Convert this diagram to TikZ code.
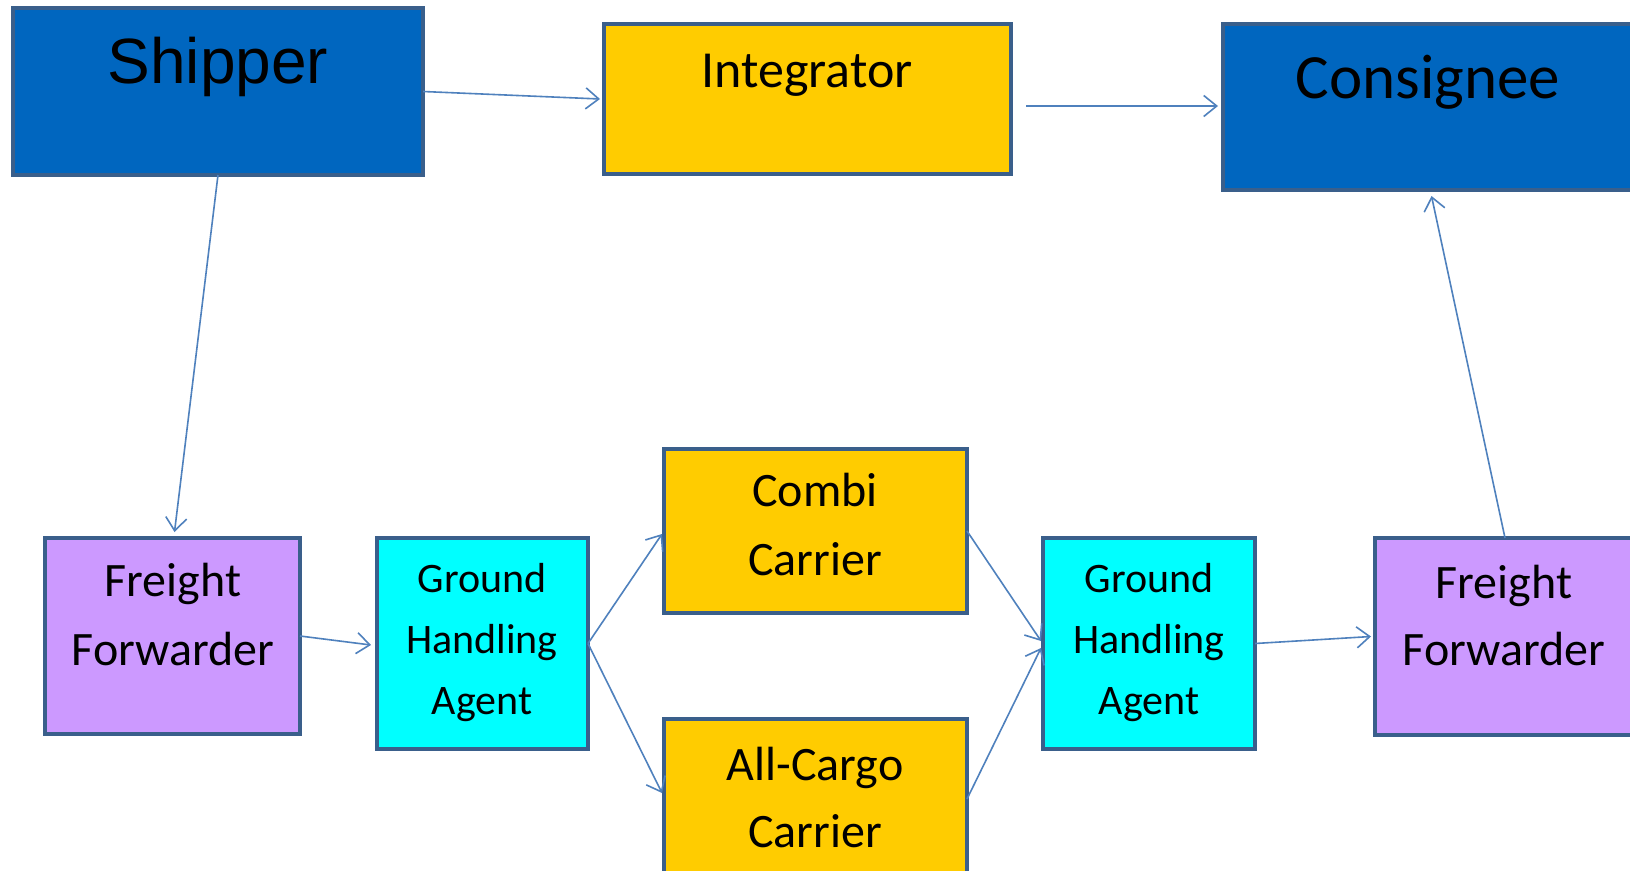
\documentclass[tikz,border=0pt]{standalone}
\usepackage{fontspec}
\setmainfont{Carlito}
\newfontfamily\arialfont{Liberation Sans}
\usetikzlibrary{arrows.meta}
\definecolor{bordercol}{HTML}{3A5F8B}
\definecolor{linecol}{HTML}{4F81BD}
\definecolor{bluefill}{HTML}{0066BF}
\definecolor{goldfill}{HTML}{FFCC00}
\definecolor{lilacfill}{HTML}{CC99FF}
\definecolor{cyanfill}{HTML}{00FFFF}
\tikzset{
  box/.style={draw=bordercol, line width=4.5pt, inner sep=0pt, outer sep=0pt, rectangle},
  lbl/.style={anchor=base, align=center, inner sep=0pt, text=black},
  conn/.style={draw=linecol, line width=1.6pt, -{Straight Barb[length=13pt,width=21pt,line width=1.6pt]}},
}
\begin{document}
\begin{tikzpicture}[x=1pt,y=-1pt]
\useasboundingbox (0,0) rectangle (1630,870);
\clip (0,0) rectangle (1630,870);
\fill[white] (0,0) rectangle (1630,870);
% boxes
\node[box, fill=bluefill, minimum width=410pt, minimum height=167pt] (ship) at (218,91.5) {};
\node[box, fill=goldfill, minimum width=407pt, minimum height=150pt] (integ) at (807.5,99) {};
\node[box, fill=bluefill, minimum width=437pt, minimum height=166pt] (cons) at (1441.5,107) {};
\node[box, fill=lilacfill, minimum width=255pt, minimum height=196pt] (ffl) at (172.5,636) {};
\node[box, fill=cyanfill, minimum width=211pt, minimum height=211pt] (ghal) at (482.5,643.5) {};
\node[box, fill=goldfill, minimum width=303pt, minimum height=164pt] (combi) at (815.5,531) {};
\node[box, fill=goldfill, minimum width=303pt, minimum height=182pt] (allc) at (815.5,810) {};
\node[box, fill=cyanfill, minimum width=212pt, minimum height=211pt] (ghar) at (1149,643.5) {};
\node[box, fill=lilacfill, minimum width=286pt, minimum height=197pt] (ffr) at (1518,636.5) {};
% labels
\node[lbl, font=\arialfont\fontsize{64}{64}\selectfont] (tship) at (218,83) {Shipper};
\node[lbl, font=\fontsize{52}{52}\selectfont] (tinteg) at (807,87) {Integrator};
\node[lbl, font=\fontsize{63}{63}\selectfont] (tcons) at (1428,98) {Consignee};
\node[lbl, font=\fontsize{48}{69}\selectfont] (tffl) at (173,665) {Freight\\Forwarder};
\node[lbl, font=\fontsize{42}{61}\selectfont] (tghal) at (482,714) {Ground\\Handling\\Agent};
\node[lbl, font=\fontsize{48}{69}\selectfont] (tcombi) at (815,575) {Combi\\Carrier};
\node[lbl, font=\fontsize{48}{67}\selectfont] (tallc) at (815,847) {All-Cargo\\Carrier};
\node[lbl, font=\fontsize{42}{61}\selectfont] (tghar) at (1149,714) {Ground\\Handling\\Agent};
\node[lbl, font=\fontsize{48}{67}\selectfont] (tffr) at (1504,665) {Freight\\Forwarder};
% connectors
\draw[conn] (ship.east) -- ([xshift=-4pt]integ.west);
\draw[conn] ([xshift=15pt,yshift=-7pt]integ.east) -- ([xshift=-5pt,yshift=1pt]cons.west);
\draw[conn] (ship.south) -- ([xshift=2pt,yshift=6pt]ffl.north);
\draw[conn] ([xshift=-13pt]ffr.north) -- ([xshift=-10pt,yshift=-6pt]cons.south);
\draw[conn] (ffl.east) -- ([xshift=-6pt,yshift=-1.5pt]ghal.west);
\draw[conn] (ghal.east) -- ([xshift=-2pt,yshift=-3pt]combi.west);
\draw[conn] (ghal.east) -- ([xshift=-2pt,yshift=17pt]allc.west);
\draw[conn] (combi.east) -- ([xshift=-2pt,yshift=2.5pt]ghar.west);
\draw[conn] ([yshift=11pt]allc.east) -- ([xshift=-2pt,yshift=-4.5pt]ghar.west);
\draw[conn] (ghar.east) -- ([xshift=-4pt]ffr.west);
\end{tikzpicture}
\end{document}
